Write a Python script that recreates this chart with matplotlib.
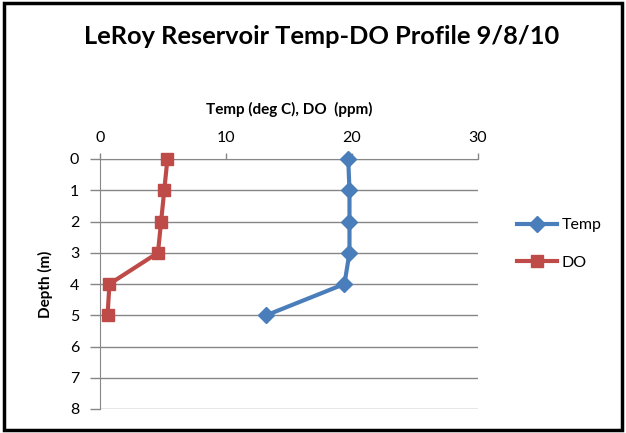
import matplotlib.pyplot as plt
from matplotlib.patches import Rectangle

# depth profile values
depth = [0, 1, 2, 3, 4, 5]
temp = [19.7, 19.8, 19.8, 19.8, 19.4, 13.2]
do = [5.35, 5.1, 4.85, 4.6, 0.75, 0.6]

plt.rcParams['font.family'] = ['Lato', 'DejaVu Sans']

fig = plt.figure(figsize=(6.26, 4.33), dpi=100)
# outer chart border
fig.patches.append(Rectangle((0.006, 0.008), 0.988, 0.984, transform=fig.transFigure,
                             fill=False, edgecolor='black', linewidth=2.5))

ax = fig.add_axes([100 / 626, 1 - 409 / 433, (478 - 100) / 626, (409 - 159) / 433])

ax.plot(temp, depth, color='#4a7ebb', linewidth=3, marker='D', markersize=8,
        label='Temp', clip_on=False, zorder=3)
ax.plot(do, depth, color='#be4b48', linewidth=3, marker='s', markersize=9,
        label='DO', clip_on=False, zorder=3)

ax.set_xlim(0, 30)
ax.set_ylim(8, 0)
ax.set_xticks([0, 10, 20, 30])
ax.set_yticks(range(0, 9))
ax.xaxis.tick_top()
ax.xaxis.set_label_position('top')
ax.tick_params(axis='both', labelsize=11.5, color='#868686', width=1)
ax.tick_params(axis='x', length=4, pad=6)
ax.tick_params(axis='y', length=7, pad=8)
ax.grid(axis='y', color='#868686', linewidth=1)
ax.set_axisbelow(True)
for side in ['right', 'bottom']:
    ax.spines[side].set_visible(False)
ax.spines['top'].set_color('#868686')
ax.spines['left'].set_color('#868686')

ax.set_xlabel('Temp (deg C), DO  (ppm)', fontsize=11, fontweight='bold', labelpad=12)
ax.set_ylabel('Depth (m)', fontsize=11, fontweight='bold', labelpad=12)

fig.text(0.514, 0.915, 'LeRoy Reservoir Temp-DO Profile 9/8/10', ha='center', va='center',
         fontsize=18.3, fontweight='bold')

ax.legend(loc='center left', bbox_to_anchor=(1.065, 0.66), frameon=False, fontsize=11.5,
          handlelength=2.5, labelspacing=1.45, handletextpad=0.3)

fig.savefig('out.png', dpi=100)
